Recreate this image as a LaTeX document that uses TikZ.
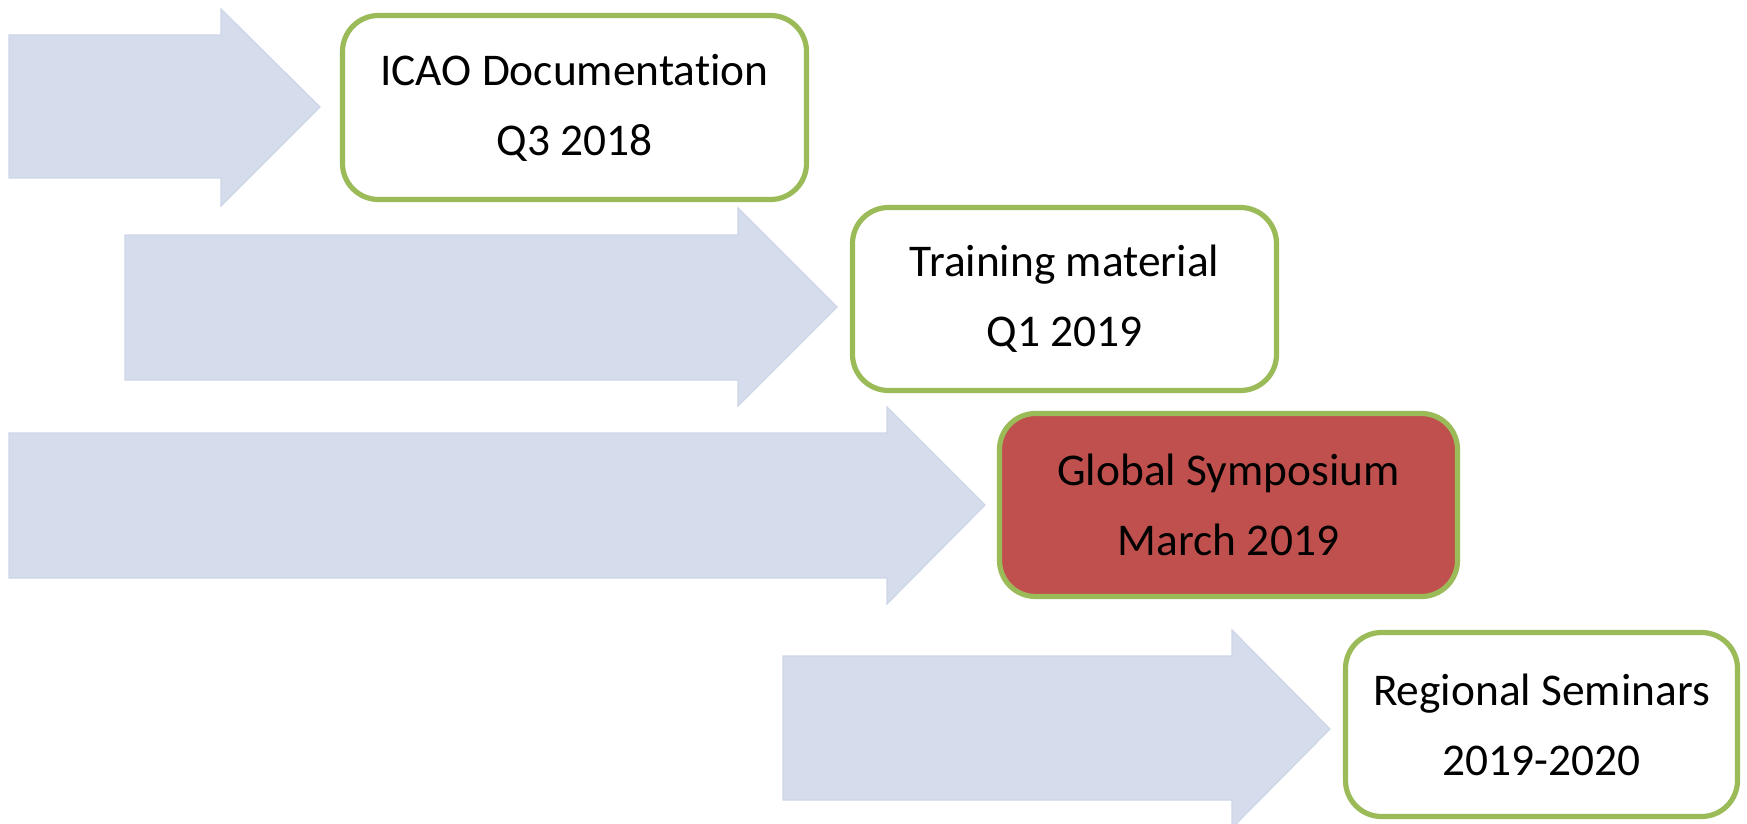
\documentclass[tikz,border=0pt]{standalone}
\usepackage{fontspec}
\setmainfont{Carlito}[Ligatures=NoCommon]
\definecolor{arrowfill}{RGB}{213,220,235}
\definecolor{arrowline}{RGB}{205,213,232}
\definecolor{boxgreen}{RGB}{155,187,89}
\definecolor{boxred}{RGB}{192,80,77}

\begin{document}
\begin{tikzpicture}[x=0.5pt,y=-0.5pt,
  milestone/.style={draw=boxgreen, line width=2.6pt, rounded corners=18pt,
    fill=white, align=center, inner sep=0pt,
    font=\fontsize{22.7}{35}\selectfont},
  highlight/.style={fill=boxred},
  flow/.style={fill=arrowfill, draw=arrowline, line width=0.6pt}]
\useasboundingbox (0,0) rectangle (1747,824);
\clip (0,0) rectangle (1747,824);

% block arrows leading into each milestone
\draw[flow] (9,35) -- (221,35) -- (221,9) -- (320,107) -- (221,206) -- (221,178) -- (9,178) -- cycle;
\draw[flow] (125,235) -- (738,235) -- (738,208) -- (837,307) -- (738,406) -- (738,380) -- (125,380) -- cycle;
\draw[flow] (9,433) -- (887,433) -- (887,407) -- (985,505) -- (887,604) -- (887,578) -- (9,578) -- cycle;
\draw[flow] (783,656) -- (1232,656) -- (1232,630) -- (1330,729) -- (1232,828) -- (1232,800) -- (783,800) -- cycle;

% milestones
\node[milestone, minimum width=232pt, minimum height=92pt] (doc) at (574.5,107.5) {ICAO Documentation\\Q3 2018};
\node[milestone, minimum width=212pt, minimum height=91.5pt] (train) at (1064.5,299) {Training material\\Q1 2019};
\node[milestone, highlight, minimum width=229pt, minimum height=91.5pt] (symp) at (1228.5,505) {Global Symposium\\March 2019};
\node[milestone, minimum width=196pt, minimum height=92pt] (sem) at (1541.5,724.5) {Regional Seminars\\2019-2020};
\end{tikzpicture}
\end{document}
